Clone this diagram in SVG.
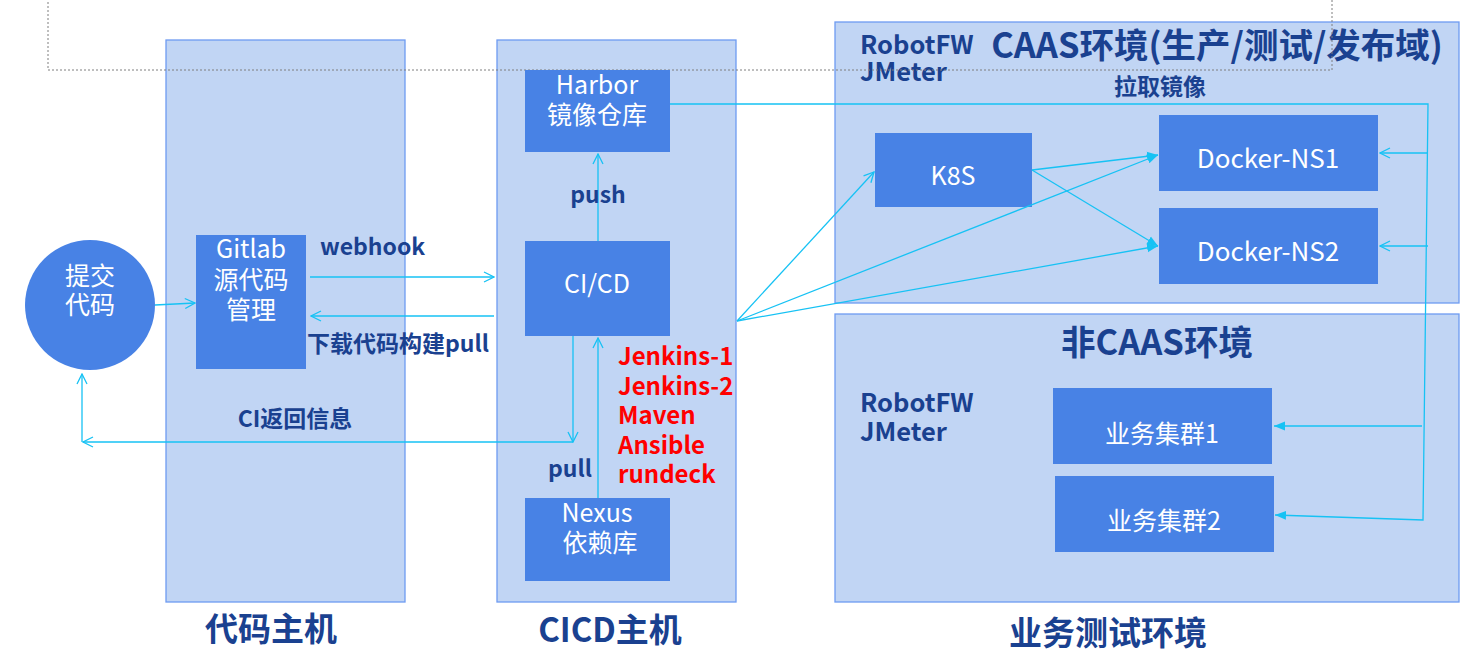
<svg xmlns="http://www.w3.org/2000/svg" width="1467" height="660" viewBox="0 0 1467 660">
<style>
text{font-family:"Noto Sans CJK SC","Noto Sans",sans-serif}
.panel{fill:#C1D5F4;stroke:#6E9BF2;stroke-width:1.3}
.box{fill:#4882E5}
.wt{fill:#FFFFFF;font-size:25px;text-anchor:middle}
.lbl{fill:#1A4190;font-size:23px;font-weight:bold}
.rf{fill:#1A4190;font-size:25.5px;font-weight:bold}
.ttl{fill:#1A4190;font-size:33px;font-weight:bold;text-anchor:middle}
.red{fill:#FF0000;font-size:24px;font-weight:bold}
.c{fill:none;stroke:#16C2F4;stroke-width:1.3}
.o{marker-end:url(#ao)}
.f{marker-end:url(#af)}
</style>
<defs>
<marker id="ao" viewBox="0 0 12 12" refX="11" refY="6" markerWidth="12" markerHeight="12" markerUnits="userSpaceOnUse" orient="auto">
<path d="M1,1 L11,6 L1,11" fill="none" stroke="#16C2F4" stroke-width="1.3"/>
</marker>
<marker id="af" viewBox="0 0 12 12" refX="11" refY="6" markerWidth="12" markerHeight="12" markerUnits="userSpaceOnUse" orient="auto">
<path d="M0,1.5 L11,6 L0,10.5 Z" fill="#16C2F4"/>
</marker>
</defs>
<rect width="1467" height="660" fill="#FFFFFF"/>

<g id="panel-code">
<rect class="panel" x="166" y="40" width="239" height="562"/>
<text class="ttl" x="271" y="641">代码主机</text>
</g>
<g id="panel-cicd">
<rect class="panel" x="497" y="40" width="239" height="562"/>
<text class="ttl" x="610" y="642">CICD主机</text>
</g>
<g id="panel-caas">
<rect class="panel" x="835" y="22" width="624" height="281"/>
<text class="ttl" x="1217" y="58" style="font-size:34.5px">CAAS环境(生产/测试/发布域)</text>
<text class="rf" x="860" y="54">RobotFW</text>
<text class="rf" x="860" y="81">JMeter</text>
</g>
<g id="panel-noncaas">
<rect class="panel" x="835" y="314" width="624" height="288"/>
<text class="ttl" x="1157" y="355" style="font-size:34.5px">非CAAS环境</text>
<text class="rf" x="860" y="412">RobotFW</text>
<text class="rf" x="860" y="441">JMeter</text>
</g>
<text class="ttl" x="1108" y="645">业务测试环境</text>

<path d="M48,-2 V70 H1332 V-2" fill="none" stroke="#7F7F7F" stroke-width="1" stroke-dasharray="2,2"/>

<g id="node-commit">
<circle cx="90" cy="305" r="65" fill="#4882E5"/>
<text class="wt" x="90" y="285">提交</text>
<text class="wt" x="90" y="314">代码</text>
</g>
<g id="node-gitlab">
<rect class="box" x="196" y="235" width="110" height="134"/>
<text class="wt" x="251" y="258">Gitlab</text>
<text class="wt" x="251" y="289">源代码</text>
<text class="wt" x="251" y="319">管理</text>
</g>
<g id="node-harbor">
<rect class="box" x="525" y="70" width="145" height="82"/>
<text class="wt" x="597" y="94">Harbor</text>
<text class="wt" x="597" y="124">镜像仓库</text>
</g>
<g id="node-cicd">
<rect class="box" x="525" y="241" width="145" height="95"/>
<text class="wt" x="597" y="293">CI/CD</text>
</g>
<g id="node-nexus">
<rect class="box" x="525" y="498" width="145" height="83"/>
<text class="wt" x="597" y="522">Nexus</text>
<text class="wt" x="600" y="552">依赖库</text>
</g>
<g id="tools">
<text class="red" x="618" y="365">Jenkins-1</text>
<text class="red" x="618" y="395">Jenkins-2</text>
<text class="red" x="618" y="424">Maven</text>
<text class="red" x="618" y="454">Ansible</text>
<text class="red" x="618" y="483">rundeck</text>
</g>
<g id="node-k8s">
<rect class="box" x="875" y="133" width="157" height="74"/>
<text class="wt" x="953" y="185">K8S</text>
</g>
<g id="node-ns1">
<rect class="box" x="1159" y="115" width="219" height="76"/>
<text class="wt" x="1268" y="168" style="font-size:26px">Docker-NS1</text>
</g>
<g id="node-ns2">
<rect class="box" x="1159" y="208" width="219" height="76"/>
<text class="wt" x="1268" y="261" style="font-size:26px">Docker-NS2</text>
</g>
<g id="node-biz1">
<rect class="box" x="1053" y="388" width="219" height="76"/>
<text class="wt" x="1162" y="443">业务集群1</text>
</g>
<g id="node-biz2">
<rect class="box" x="1055" y="476" width="219" height="76"/>
<text class="wt" x="1164" y="530">业务集群2</text>
</g>

<g id="connectors">
<path class="c o" d="M155,305 L195,303"/>
<path class="c o" d="M310,277 H494"/>
<path class="c o" d="M494,316 H311"/>
<path class="c o" d="M598,241 V154"/>
<path class="c o" d="M598,498 V338"/>
<path class="c o" d="M573,336 V442"/>
<path class="c o" d="M573,442 H83"/>
<path class="c o" d="M82,442 V374"/>
<path class="c o" d="M737,321 L874,172"/>
<path class="c f" d="M737,321 L1158,155"/>
<path class="c f" d="M737,321 L1158,246"/>
<path class="c f" d="M1032,170 L1158,155"/>
<path class="c f" d="M1032,170 L1158,246"/>
<path class="c f" d="M670,104 H1428 L1423,520 L1275,515"/>
<path class="c o" d="M1427,153 H1380"/>
<path class="c o" d="M1428,246 H1380"/>
<path class="c f" d="M1422,426 H1274"/>
</g>

<g id="labels">
<text class="lbl" x="320" y="255">webhook</text>
<text class="lbl" x="307" y="352">下载代码构建pull</text>
<text class="lbl" x="295" y="427" style="text-anchor:middle">CI返回信息</text>
<text class="lbl" x="598" y="203" style="text-anchor:middle">push</text>
<text class="lbl" x="548" y="477">pull</text>
<text class="lbl" x="1114" y="95">拉取镜像</text>
</g>
</svg>
